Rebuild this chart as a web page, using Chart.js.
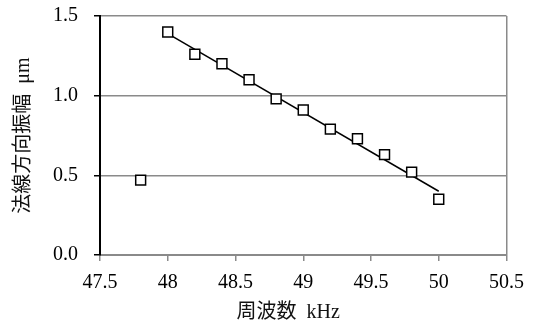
<!DOCTYPE html>
<html>
<head>
<meta charset="utf-8">
<script src="https://cdn.jsdelivr.net/npm/chart.js@4/dist/chart.umd.min.js"></script>
<style>
  html, body { margin: 0; padding: 0; background: #fff; }
  #wrap { width: 534px; height: 326px; }
</style>
</head>
<body>
<div id="wrap"><canvas id="myChart"></canvas></div>
<script>
// measured points (frequency kHz / amplitude um)
const freq = [47.8, 48.0, 48.2, 48.4, 48.6, 48.8, 49.0, 49.2, 49.4, 49.6, 49.8, 50.0];
const amp = [0.47, 1.40, 1.26, 1.20, 1.10, 0.98, 0.91, 0.79, 0.73, 0.63, 0.52, 0.35];
// linear trend line ends
const trendX = [48.0, 50.0];
const trendY = [1.39, 0.40];
// axis ticks
const xTicks = [47.5, 48, 48.5, 49, 49.5, 50, 50.5];
const yTicks = [0.0, 0.5, 1.0, 1.5];

const FONT = "'Liberation Serif', 'Noto Sans CJK JP', serif";
const GRAY = '#8a8a8a';

const ctx = document.getElementById('myChart');
new Chart(ctx, {
  type: 'scatter',
  data: {
    datasets: [{
      label: 'data',
      data: freq.map((x, i) => ({ x: x, y: amp[i] })),
      pointStyle: 'rect',
      pointRadius: 7,
      pointBorderWidth: 1.5,
      pointBackgroundColor: '#fff',
      pointBorderColor: '#000',
      showLine: false,
      order: 0
    }, {
      label: 'trend',
      data: trendX.map((x, i) => ({ x: x, y: trendY[i] })),
      showLine: true,
      borderColor: '#000',
      borderWidth: 1.5,
      pointRadius: 0,
      order: 1
    }]
  },
  options: {
    responsive: true,
    maintainAspectRatio: false,
    animation: false,
    layout: { padding: { top: 16, right: 24, left: 0, bottom: 0 } },
    plugins: {
      legend: { display: false },
      tooltip: { enabled: false }
    },
    scales: {
      x: {
        type: 'linear',
        min: xTicks[0],
        max: xTicks[xTicks.length - 1],
        afterBuildTicks: scale => { scale.ticks = xTicks.map(v => ({ value: v })); },
        ticks: {
          color: '#000',
          font: { family: FONT, size: 20 },
          padding: 10,
          maxRotation: 0,
          callback: v => String(v)
        },
        grid: {
          color: c => (c.index === xTicks.length - 1 ? GRAY : 'rgba(0,0,0,0)'),
          tickColor: GRAY,
          tickLength: 6,
          lineWidth: 1.5
        },
        border: { color: GRAY, width: 2 },
        title: {
          display: true,
          // trailing blanks nudge the centred title left like the original
          text: '周波数  kHz\u3000  ',
          color: '#111',
          font: { family: FONT, size: 20 },
          padding: { top: 4, bottom: 1 }
        },
        afterFit: scale => { scale.height = 71; }
      },
      y: {
        min: yTicks[0],
        max: yTicks[yTicks.length - 1],
        afterBuildTicks: scale => { scale.ticks = yTicks.map(v => ({ value: v })); },
        ticks: {
          color: '#000',
          font: { family: FONT, size: 20 },
          padding: 16,
          callback: v => v.toFixed(1)
        },
        grid: {
          color: c => (c.tick && c.tick.value === 0 ? 'rgba(0,0,0,0)' : GRAY),
          tickColor: '#000',
          tickLength: 6,
          lineWidth: 1.5
        },
        border: { color: '#000', width: 2 },
        title: {
          display: true,
          text: '法線方向振幅  μm',
          color: '#111',
          font: { family: FONT, size: 20 },
          padding: { top: 12, bottom: 0 }
        },
        afterFit: scale => {
          scale.width = 100;
          scale.paddingTop = 0;
          scale.paddingBottom = 0;
        }
      }
    }
  }
});
</script>
</body>
</html>
